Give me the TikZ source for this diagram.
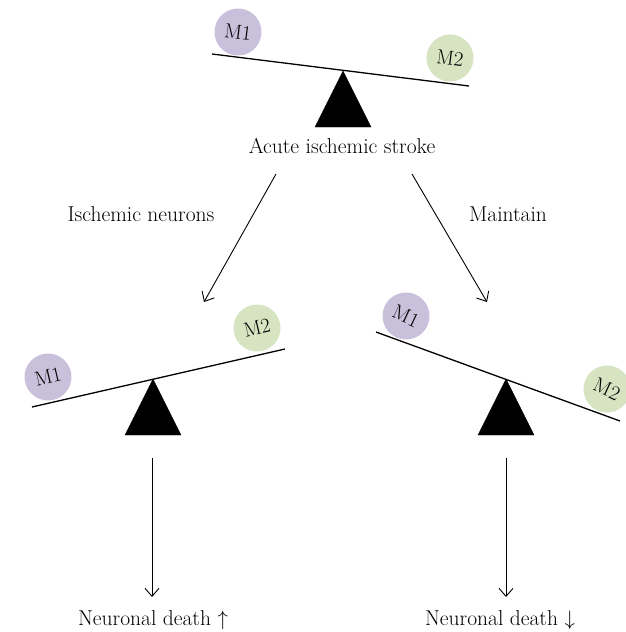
\documentclass[tikz,border=0pt]{standalone}
\usepackage{amsmath,amssymb}
\usepackage{xcolor}
\usepackage{tikz}
\usetikzlibrary{arrows.meta}

\definecolor{mone}{HTML}{C9C0DB}
\definecolor{mtwo}{HTML}{D7E4C1}

\tikzset{
  beam/.style={line width=1.3pt},
  fulcrum/.style={fill=black, draw=black},
  ball/.style={circle, minimum size=47pt, inner sep=0pt, font=\fontsize{20.5}{20.5}\selectfont},
  mball/.style={ball, fill=mone},
  nball/.style={ball, fill=mtwo},
  txt/.style={font=\fontsize{21.5}{21.5}\selectfont, inner sep=0pt},
  flow/.style={-{Straight Barb[length=8pt,width=14pt]}, line width=0.9pt}
}

\begin{document}
\begin{tikzpicture}[x=1pt,y=-1pt]
\def\fw{28};
\def\fh{56};
\useasboundingbox (0,0) rectangle (626,632);
%top balance%
\coordinate (TA) at (212,54);
\coordinate (TB) at (469,86);
\coordinate (TF) at (343,71);
%left balance%
\coordinate (LA) at (32,407);
\coordinate (LB) at (285,349);
\coordinate (LF) at (153,379);
%right balance%
\coordinate (RA) at (376,332);
\coordinate (RB) at (620,421);
\coordinate (RF) at (506,379);

\draw[fulcrum] (TF) -- ++(-\fw,\fh) -- ++(2*\fw,0) -- cycle;
\draw[fulcrum] (LF) -- ++(-\fw,\fh) -- ++(2*\fw,0) -- cycle;
\draw[fulcrum] (RF) -- ++(-\fw,\fh) -- ++(2*\fw,0) -- cycle;

\node[mball, rotate=-7] (TM1) at (238,32) {M1};
\node[nball, rotate=-7] (TM2) at (450,58) {M2};
\node[mball, rotate=13] (LM1) at (48,377) {M1};
\node[nball, rotate=13] (LM2) at (257,328) {M2};
\node[mball, rotate=-25] (RM1) at (406,316) {M1};
\node[nball, rotate=-25] (RM2) at (607,389) {M2};

\draw[beam] (TA) -- (TB);
\draw[beam] (LA) -- (LB);
\draw[beam] (RA) -- (RB);

\node[txt] (stroke) at (342,146) {Acute ischemic stroke};
\node[txt] (ischemic) at (141,214) {Ischemic neurons};
\node[txt] (maintain) at (508,214) {Maintain};
\node[txt] (deathL) at (153,620) {Neuronal death $\uparrow$};
\node[txt] (deathR) at (500,620) {Neuronal death $\downarrow$};

% arrows
\coordinate (s1) at (276,174);
\coordinate (e1) at (204,302);
\coordinate (s2) at (412,174);
\coordinate (e2) at (487,302);
\coordinate (s3) at (152,458);
\coordinate (e3) at (152,597);
\coordinate (s4) at (506,458);
\coordinate (e4) at (506,597);
\draw[flow] (s1) -- (e1);
\draw[flow] (s2) -- (e2);
\draw[flow] (s3) -- (e3);
\draw[flow] (s4) -- (e4);

\end{tikzpicture}
\end{document}
